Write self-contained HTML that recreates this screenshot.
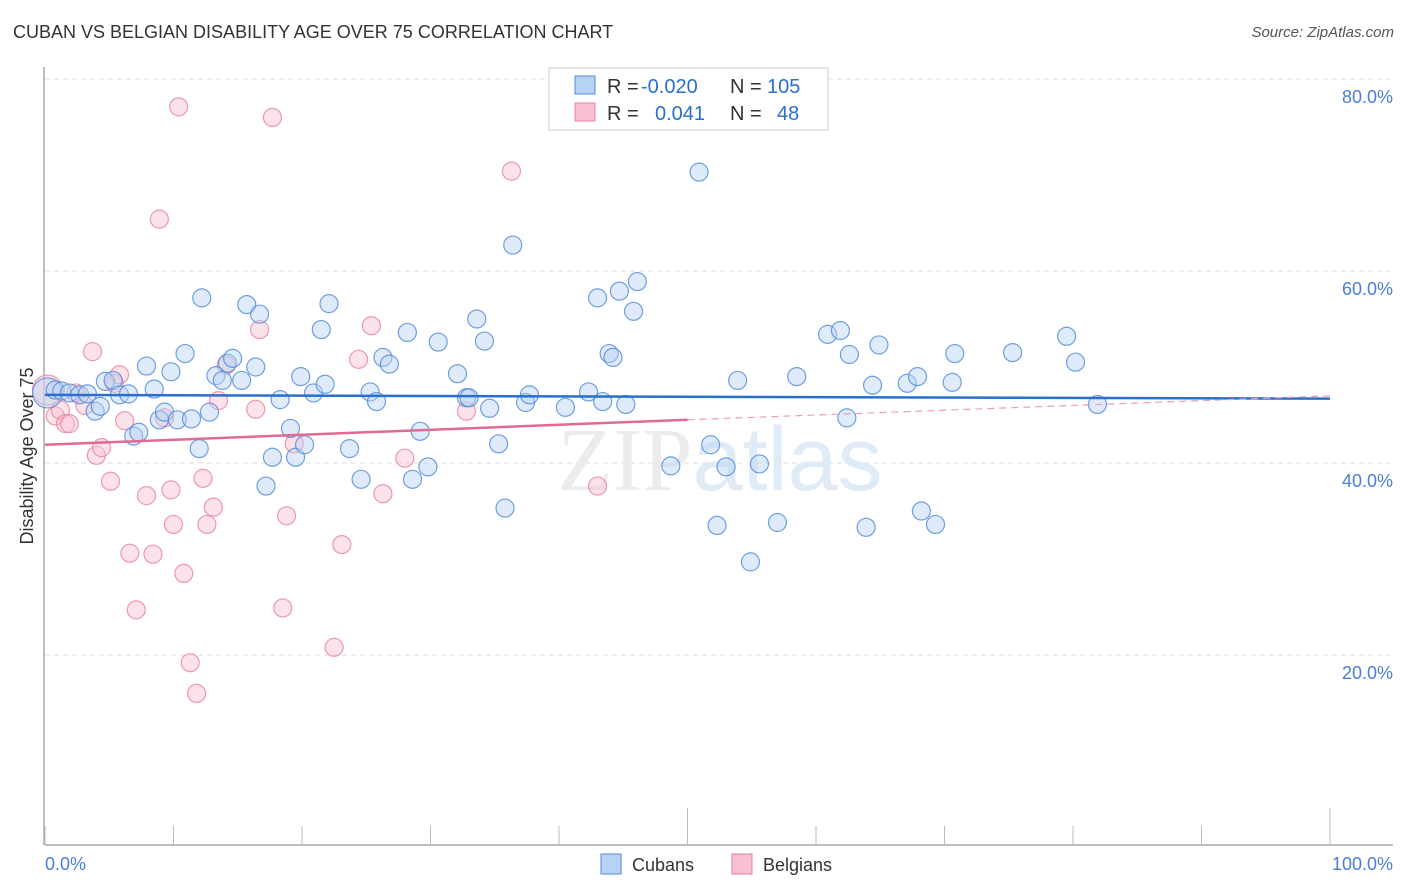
<!DOCTYPE html>
<html><head><meta charset="utf-8"><style>
body{margin:0;background:#fff;font-family:"Liberation Sans",sans-serif}
#wrap{position:relative;width:1406px;height:892px}
.t{position:absolute;white-space:nowrap}
</style></head><body>
<div id="wrap">
<div class="t" style="left:13px;top:22px;font-size:18px;color:#333">CUBAN VS BELGIAN DISABILITY AGE OVER 75 CORRELATION CHART</div>
<div class="t" style="right:12px;top:24px;font-size:15px;color:#555;font-style:italic">Source: ZipAtlas.com</div>
<svg id="svg" width="1406" height="892" style="position:absolute;left:0;top:0"></svg>
</div>
<script>
const cubX=[0.2,0.8,1.3,1.9,2.7,3.3,3.9,4.3,4.7,5.3,5.8,6.5,6.9,7.3,7.9,8.5,8.9,9.3,9.8,10.3,10.9,11.4,12.0,12.2,12.8,13.3,13.8,14.2,14.6,15.3,15.7,16.4,16.7,17.2,17.7,18.3,19.1,19.5,19.9,20.2,20.9,21.5,21.8,22.1,23.7,24.6,25.3,25.8,26.3,26.8,28.2,28.6,29.2,29.8,30.6,32.1,32.8,33.0,33.6,34.2,34.6,35.3,35.8,36.4,37.4,37.7,40.5,42.3,43.0,43.4,43.9,44.2,44.7,45.2,45.8,46.1,48.7,50.9,51.8,52.3,53.0,53.9,54.9,55.6,57.0,58.5,60.9,61.9,62.4,62.6,63.9,64.4,64.9,67.1,67.9,68.2,69.3,70.6,70.8,75.3,79.5,80.2,81.9];
const cubY=[47.3,47.6,47.5,47.3,47.1,47.2,45.4,45.9,48.5,48.6,47.1,47.2,42.8,43.2,50.1,47.7,44.5,45.3,49.5,44.5,51.4,44.6,41.5,57.2,45.3,49.1,48.6,50.4,50.9,48.6,56.5,50.0,55.5,37.6,40.6,46.6,43.6,40.6,49.0,41.9,47.3,53.9,48.2,56.6,41.5,38.3,47.4,46.4,51.0,50.3,53.6,38.3,43.3,39.6,52.6,49.3,46.8,46.8,55.0,52.7,45.7,42.0,35.3,62.7,46.3,47.1,45.8,47.4,57.2,46.4,51.4,51.0,57.9,46.1,55.8,58.9,39.7,70.3,41.9,33.5,39.6,48.6,29.7,39.9,33.8,49.0,53.4,53.8,44.7,51.3,33.3,48.1,52.3,48.3,49.0,35.0,33.6,48.4,51.4,51.5,53.2,50.5,46.1];
const belX=[0.2,0.8,1.2,1.6,1.9,2.4,3.1,3.7,4.0,4.4,5.1,5.4,5.8,6.2,6.6,7.1,7.9,8.4,8.9,9.3,9.8,10.0,10.4,10.8,11.3,11.8,12.3,12.6,13.1,13.5,14.1,16.4,16.7,17.7,18.5,18.8,19.4,22.5,23.1,24.4,25.4,26.3,28.0,32.8,36.3,43.0];
const belY=[47.6,44.9,45.5,44.1,44.1,47.3,46.0,51.6,40.8,41.6,38.1,48.3,49.2,44.4,30.6,24.7,36.6,30.5,65.4,44.7,37.2,33.6,77.1,28.5,19.2,16.0,38.4,33.6,35.4,46.5,50.2,45.6,53.9,76.0,24.9,34.5,42.0,20.8,31.5,50.8,54.3,36.8,40.5,45.4,70.4,37.6];
const cubTrend=[47.1,46.7];
const belTrend=[41.9,44.5,47.0];
const yTicks=[20,40,60,80];
const xTickLabels=["0.0%","100.0%"];
const NS="http://www.w3.org/2000/svg";
const svg=document.getElementById('svg');
const X=v=>45+v*12.85, Y=v=>847-v*9.6;
function mk(t,a){const e=document.createElementNS(NS,t);for(const k in a)e.setAttribute(k,a[k]);svg.appendChild(e);return e;}
yTicks.forEach(v=>{
 const g=mk('line',{x1:45,x2:1393,y1:Y(v),y2:Y(v),stroke:'#ddd','stroke-dasharray':'5,4'});
 
 
 const t=mk('text',{x:1393,y:Y(v)+24,'text-anchor':'end','font-size':18,fill:'#4a7fd4'});
 t.textContent=v.toFixed(1)+'%';
 
 
});
const wm=mk('text',{x:720,y:490,'text-anchor':'middle','font-size':90,fill:'#ececec','font-family':'Liberation Serif'});
wm.innerHTML='ZIP<tspan fill="#e0ebf8" font-family="Liberation Sans">atlas</tspan>';


const ax=mk('line',{x1:45,x2:1393,y1:845,y2:845,stroke:'#aaa','stroke-width':1.5});


const ay=mk('line',{x1:44,x2:44,y1:67,y2:845,stroke:'#aaa','stroke-width':1.5});


for(let i=0;i<=10;i++){
 const tk=mk('line',{x1:X(i*10),x2:X(i*10),y1:(i==5||i==10)?808:826,y2:845,stroke:'#bbb'});
 
 
}
function dots(xs,ys,fill,stroke,name){
 xs.forEach((x,i)=>{
  const c=mk('circle',{cx:X(x),cy:Y(ys[i]),r:i==0?15:9,fill:fill,'fill-opacity':0.45,stroke:stroke,'stroke-width':1.2,'stroke-opacity':0.8});
  
  
 });
}
dots(belX,belY,'#f8c0d0','#e8819f','belgian-point');
dots(cubX,cubY,'#b7d3f3','#4f88d8','cuban-point');
const bl=mk('line',{x1:X(0),x2:X(100),y1:Y(cubTrend[0]),y2:Y(cubTrend[1]),stroke:'#2a6fd0','stroke-width':2.5});


const pl=mk('line',{x1:X(0),x2:X(50),y1:Y(belTrend[0]),y2:Y(belTrend[1]),stroke:'#e06a90','stroke-width':2.5});


const pd=mk('line',{x1:X(50),x2:X(100),y1:Y(belTrend[1]),y2:Y(belTrend[2]),stroke:'#e8a0b8','stroke-width':1.2,'stroke-dasharray':'7,5'});


const ylab=mk('text',{x:0,y:0,transform:'translate(33,456) rotate(-90)','text-anchor':'middle','font-size':18,fill:'#333'});
ylab.textContent='Disability Age Over 75';


[[45,'start'],[1393,'end']].forEach((p,i)=>{
 const t=mk('text',{x:p[0],y:870,'text-anchor':p[1],'font-size':18,fill:'#4a7fd4'});
 t.textContent=xTickLabels[i];
 
 
});
const lb=mk('rect',{x:549,y:68,width:279,height:62,fill:'#fff',stroke:'#ccc'});


[[76,'#b7d3f3','#4f88d8','-0.020','105'],[103,'#f8c0d0','#e8819f','0.041','48']].forEach((r,i)=>{
 const s=mk('rect',{x:575,y:r[0],width:20,height:18,fill:r[1],stroke:r[2]});
 
 
 const t=mk('text',{x:607,y:r[0]+17,'font-size':20,fill:'#333'});
 t.innerHTML='R = <tspan fill="#2a6fd0" x="'+(i?655:641)+'">'+r[3]+'</tspan><tspan x="730">N = </tspan><tspan fill="#2a6fd0" x="'+(i?777:767)+'">'+r[4]+'</tspan>';
 
 
});
[[601,'#b7d3f3','#4f88d8','Cubans',632],[732,'#f8c0d0','#e8819f','Belgians',763]].forEach(r=>{
 const s=mk('rect',{x:r[0],y:854,width:20,height:20,fill:r[1],stroke:r[2]});
 
 
 const t=mk('text',{x:r[4],y:871,'font-size':18,fill:'#333'});
 t.textContent=r[3];
 
 
});
</script>
</body></html>
